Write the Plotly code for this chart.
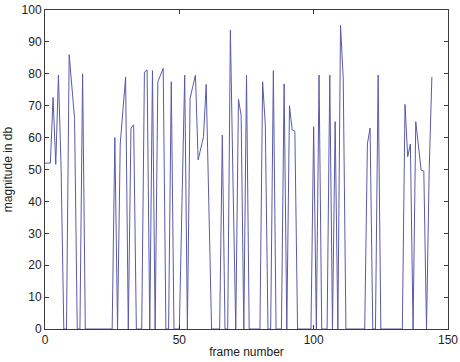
import plotly.graph_objects as go

# magnitude (dB) per frame, frames 0..144
magnitude = [
    52, 52, 52, 72.6, 51.6, 79.6, 50, 0, 0, 86,          # 0-9
    77, 66, 0, 0, 80, 0, 0, 0, 0, 0,                     # 10-19
    0, 0, 0, 0, 0, 0, 60, 0, 58, 68.5,                   # 20-29
    79, 0, 63, 64, 0, 0, 0, 80.5, 81.2, 0,               # 30-39
    81, 0, 77.5, 79.6, 81.7, 0, 0, 77.5, 0, 0,           # 40-49
    0, 40, 79.6, 0, 72.3, 76, 79.6, 53, 56.5, 60.3,      # 50-59
    76.7, 35, 0, 0, 0, 0, 60.8, 0, 0, 93.7,              # 60-69
    45, 0, 72, 67, 0, 79.6, 0, 0, 0, 0,                  # 70-79
    0, 77.5, 64, 0, 0, 81, 0, 0, 0, 76.8,                # 80-89
    0, 70, 62.4, 62, 0, 0, 0, 0, 0, 0,                   # 90-99
    63.4, 0, 79.6, 0, 0, 0, 79.6, 0, 65, 0,              # 100-109
    95.3, 78.6, 0, 0, 0, 0, 0, 0, 0, 0,                  # 110-119
    58, 63, 0, 0, 79.6, 0, 0, 0, 0, 0,                   # 120-129
    0, 0, 0, 0, 70.4, 54, 58, 0, 65, 57,                 # 130-139
    49.8, 49.5, 0, 50, 79,                               # 140-144
]
frames = list(range(len(magnitude)))

x_ticks = [0, 50, 100, 150]
y_ticks = list(range(0, 101, 10))

FONT = "Liberation Sans, Arial, sans-serif"

fig = go.Figure()
fig.add_trace(go.Scatter(
    x=frames, y=magnitude, mode="lines",
    line=dict(color="#5a5aa8", width=1),
    hoverinfo="skip", showlegend=False,
))

axis_common = dict(
    showgrid=False, zeroline=False, automargin=False,
    showline=True, linecolor="#3c3c3c", linewidth=1, mirror="ticks",
    ticks="inside", ticklen=4, tickcolor="#3c3c3c", tickwidth=1,
    tickfont=dict(family=FONT, size=12, color="#222222"),
)

fig.update_layout(
    width=460, height=362,
    margin=dict(l=45, r=12, t=10, b=33),
    paper_bgcolor="white", plot_bgcolor="white",
    xaxis=dict(range=[0, 150], tickvals=x_ticks,
               title=dict(text="frame number", standoff=1,
                          font=dict(family=FONT, size=12, color="#222222")),
               **axis_common),
    yaxis=dict(range=[0, 100], tickvals=y_ticks,
               title=dict(text="magnitude in db", standoff=6,
                          font=dict(family=FONT, size=12, color="#222222")),
               **axis_common),
)

fig.write_html("out.html")
